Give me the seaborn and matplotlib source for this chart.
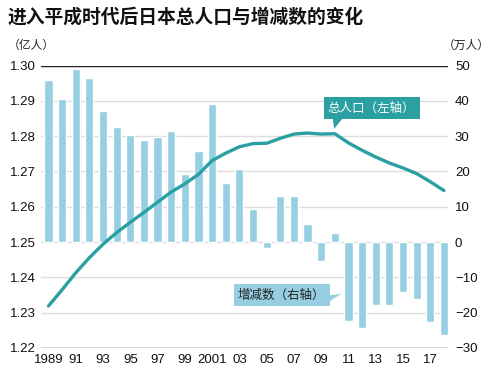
import matplotlib
matplotlib.use("Agg")
import matplotlib.pyplot as plt
import seaborn as sns
from matplotlib.patches import Polygon

# data
years = list(range(1989, 2019))
change = [46, 40.5, 49, 46.5, 37, 32.6, 30.4, 28.9, 29.9, 31.4,
          19.4, 25.9, 39, 16.8, 20.8, 9.3, -1.7, 13.1, 13, 5,
          -5.3, 2.5, -22.3, -24.3, -17.9, -17.8, -14.2, -16.2, -22.7, -26.3]
total = [1.2319, 1.2365, 1.2413, 1.2456, 1.2494, 1.2527, 1.2556, 1.2584, 1.2613, 1.2642,
         1.2665, 1.2692, 1.2731, 1.2752, 1.2770, 1.2779, 1.2780, 1.2794, 1.2806, 1.2809,
         1.2806, 1.2807, 1.2781, 1.2760, 1.2741, 1.2724, 1.2710, 1.2694, 1.2671, 1.2646]
tick_years = list(range(1989, 2019, 2))
tick_labels = ['1989', '91', '93', '95', '97', '99', '2001', '03', '05', '07',
               '09', '11', '13', '15', '17']
left_ticks = [1.22, 1.23, 1.24, 1.25, 1.26, 1.27, 1.28, 1.29, 1.30]
right_ticks = [-30, -20, -10, 0, 10, 20, 30, 40, 50]

BAR = '#96cfe1'
LINE = '#2aa0a2'
CJK = ['Noto Sans CJK SC', 'DejaVu Sans']

sns.set_theme(style='white')
plt.rcParams['font.family'] = ['Liberation Sans', 'Noto Sans CJK SC', 'DejaVu Sans']

fig = plt.figure(figsize=(5, 3.77), dpi=100)
ax = fig.add_axes([0.082, 0.077, 0.814, 0.749])
ax2 = ax.twinx()

# bars on the right scale
sns.barplot(x=years, y=change, native_scale=True, color=BAR, saturation=1,
            width=0.6, errorbar=None, ax=ax, zorder=2)
ax.set_ylim(-30, 50)
ax.set_yticks(right_ticks)
ax.yaxis.tick_right()
ax.grid(axis='y', color='#dedede', linewidth=1, zorder=0)
ax.set_axisbelow(True)
ax.axhline(50, color='#222222', linewidth=1, zorder=1)
ax.axhline(-30, color='#555555', linewidth=1, zorder=1)

# total population line on the left scale
sns.lineplot(x=years, y=total, color=LINE, linewidth=2.4, ax=ax2)
ax2.set_ylim(1.22, 1.30)
ax2.set_yticks(left_ticks)
ax2.set_yticklabels([f'{v:.2f}' for v in left_ticks])
ax2.yaxis.tick_left()

ax.set_xlim(1988.45, 2018.3)
ax.set_xticks(tick_years)
ax.set_xticklabels(tick_labels)

for a in (ax, ax2):
    a.set_xlabel('')
    a.set_ylabel('')
    for s in a.spines.values():
        s.set_visible(False)
ax.tick_params(axis='y', length=0, labelsize=9.5, pad=5, colors='#111111')
ax2.tick_params(axis='y', length=0, labelsize=9.5, pad=4, colors='#111111')
ax.tick_params(axis='x', length=0, labelsize=9.5, pad=4, colors='#111111')

# callouts
ax2.text(2012.7, 1.2880, '总人口（左轴）', family=CJK, fontsize=9, color='white',
         ha='center', va='center',
         bbox=dict(boxstyle='square,pad=0.35', fc=LINE, ec='none'))
ax2.add_patch(Polygon([(2009.85, 1.2852), (2010.6, 1.2852), (2009.95, 1.2821)],
                      closed=True, fc=LINE, ec='none'))

ax.text(2006.1, -15.0, '增减数（右轴）', family=CJK, fontsize=9, color='#222222',
        ha='center', va='center', zorder=5,
        bbox=dict(boxstyle='square,pad=0.35', fc=BAR, ec='none'))
ax.add_patch(Polygon([(2009.3, -15.3), (2009.3, -17.5), (2010.5, -14.6)],
                     closed=True, fc=BAR, ec='none', zorder=5))

fig.text(0.016, 0.955, '进入平成时代后日本总人口与增减数的变化', family=CJK,
         fontsize=13.5, fontweight='bold', color='#111111', va='center')
fig.text(0.016, 0.88, '（亿人）', family=CJK, fontsize=8.5, color='#222222', va='center')
fig.text(0.885, 0.88, '（万人）', family=CJK, fontsize=8.5, color='#222222', va='center')

fig.savefig('out.png', dpi=100)
